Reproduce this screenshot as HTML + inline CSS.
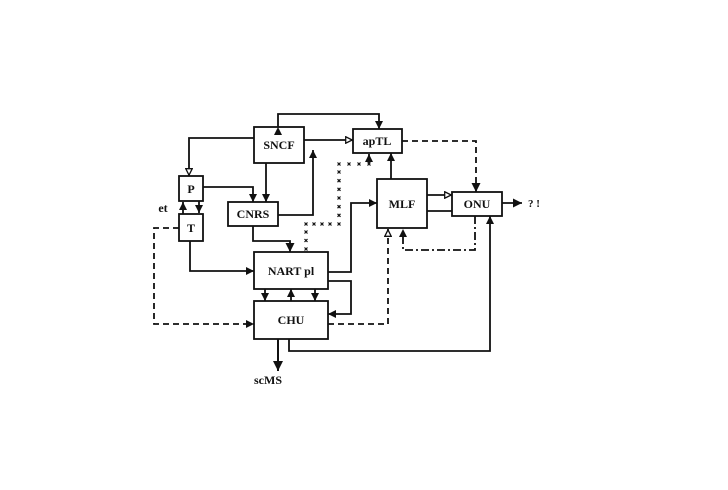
<!DOCTYPE html>
<html><head><meta charset="utf-8"><style>
html,body{margin:0;padding:0;background:#fff;}
svg{display:block;}
text{font-family:"Liberation Serif",serif;fill:#111;font-weight:bold;}
</style></head><body>
<svg id="s" width="728" height="490" viewBox="0 0 728 490" xmlns="http://www.w3.org/2000/svg">
<defs>
<marker id="f" viewBox="0 0 10 10" refX="10" refY="5" markerWidth="4.5" markerHeight="4.5" orient="auto"><path d="M0,0L10,5L0,10z" fill="#111"/></marker>
<marker id="F" viewBox="0 0 10 10" refX="10" refY="5" markerWidth="5" markerHeight="6" orient="auto"><path d="M0,0L10,5L0,10z" fill="#111"/></marker>
<marker id="h" viewBox="0 0 10 10" refX="10" refY="5" markerWidth="4.5" markerHeight="4.5" orient="auto"><path d="M1,1L9,5L1,9z" fill="#fff" stroke="#111" stroke-width="1.6"/></marker>
</defs>
<g fill="none" stroke="#111" stroke-width="1.8">
<rect x="254" y="127" width="50" height="36"/>
<rect x="353" y="129" width="49" height="24"/>
<rect x="179" y="176" width="24" height="25"/>
<rect x="179" y="214" width="24" height="27"/>
<rect x="228" y="202" width="50" height="24"/>
<rect x="377" y="179" width="50" height="49"/>
<rect x="452" y="192" width="50" height="24"/>
<rect x="254" y="252" width="74" height="37"/>
<rect x="254" y="301" width="74" height="38"/>
<path d="M278,127V114H379V129" marker-end="url(#f)" marker-start="url(#f)" />
<path d="M304,140H353" marker-end="url(#h)"/>
<path d="M254,138H189V176" marker-end="url(#h)"/>
<path d="M203,187H253V202" marker-end="url(#f)"/>
<path d="M266,163V202" marker-end="url(#f)"/>
<path d="M278,215H313V150" marker-end="url(#f)"/>
<path d="M183,214V202" marker-end="url(#f)"/>
<path d="M199,201V213" marker-end="url(#f)"/>
<path d="M253,226V241H290V252" marker-end="url(#F)"/>
<path d="M190,241V271H254" marker-end="url(#f)"/>
<path d="M391,179V153" marker-end="url(#f)"/>
<path d="M328,272H351V203H377" marker-end="url(#f)"/>
<path d="M427,195H452" marker-end="url(#h)"/>
<path d="M427,211H452"/>
<path d="M502,203H522" marker-end="url(#F)"/>
<path d="M328,281H351V314H328" marker-end="url(#f)"/>
<path d="M265,289V301" marker-end="url(#f)"/>
<path d="M291,301V289" marker-end="url(#f)"/>
<path d="M315,289V301" marker-end="url(#f)"/>
<path d="M289,339V351H490V216" marker-end="url(#f)"/>
<path d="M278,339V371" marker-end="url(#F)" stroke-width="2"/>
<path d="M402,141H476V192" stroke-dasharray="6,4" marker-end="url(#F)"/>
<path d="M475,216V250H403V229" stroke-dasharray="8,3,2,3" marker-end="url(#f)"/>
<path d="M328,324H388V229" stroke-dasharray="6,4" marker-end="url(#h)"/>
<path d="M179,228H154V324H254" stroke-dasharray="6,4" marker-end="url(#f)"/>
<path d="M369,163V154" marker-end="url(#f)"/>
</g>
<g id="xs" stroke="#111" stroke-width="1.2"></g>
<g font-size="12" text-anchor="middle">
<text x="279" y="149">SNCF</text>
<text x="377" y="145">apTL</text>
<text x="191" y="193">P</text>
<text x="191" y="232">T</text>
<text x="253" y="218">CNRS</text>
<text x="402" y="208">MLF</text>
<text x="477" y="208">ONU</text>
<text x="291" y="275">NART pl</text>
<text x="291" y="324">CHU</text>
<text x="163" y="212">et</text>
<text x="268" y="384">scMS</text>
<text x="534" y="207" font-size="11">? !</text>
</g>
</svg>
<script>
var g=document.getElementById('xs'),pts=[];
function seg(x1,y1,x2,y2,n){for(var i=0;i<=n;i++)pts.push([x1+(x2-x1)*i/n,y1+(y2-y1)*i/n]);}
seg(339,164,369,164,3);seg(339,172,339,224,6);seg(330,224,306,224,3);seg(306,232,306,249,2);
pts.forEach(function(p){var l=document.createElementNS('http://www.w3.org/2000/svg','path');
l.setAttribute('d','M'+(p[0]-1.5)+','+(p[1]-1.5)+'l3,3m0,-3l-3,3');g.appendChild(l);});
</script>
</body></html>
